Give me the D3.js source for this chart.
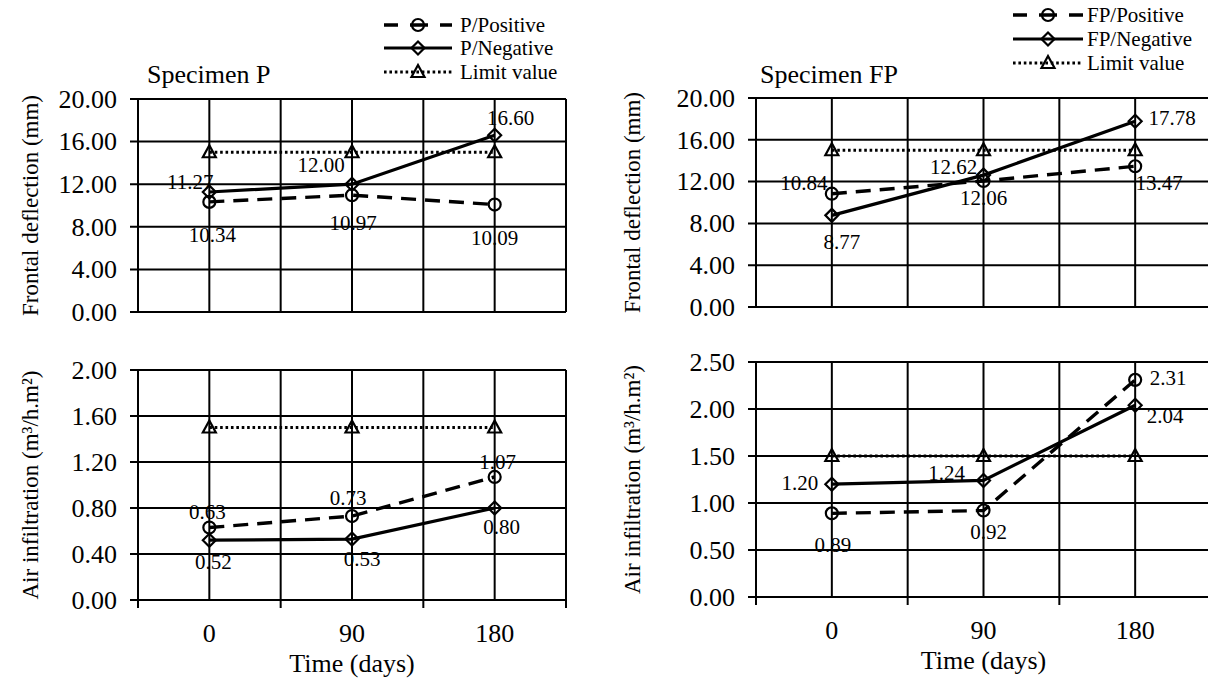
<!DOCTYPE html>
<html>
<head>
<meta charset="utf-8">
<script src="https://cdn.jsdelivr.net/npm/d3@7"></script>
<style>
  body { margin: 0; background: #fff; }
  svg text { font-family: "Liberation Serif", Tinos, "Times New Roman", Times, serif; }
</style>
</head>
<body>
<svg id="chart" width="1208" height="679"></svg>
<script>
// categories
const days = ["0", "90", "180"];

// specimen P
const pDeflPositive = [10.34, 10.97, 10.09];
const pDeflNegative = [11.27, 12.00, 16.60];
const pAirPositive = [0.63, 0.73, 1.07];
const pAirNegative = [0.52, 0.53, 0.80];

// specimen FP
const fpDeflPositive = [10.84, 12.06, 13.47];
const fpDeflNegative = [8.77, 12.62, 17.78];
const fpAirPositive = [0.89, 0.92, 2.31];
const fpAirNegative = [1.20, 1.24, 2.04];

// limits
const deflLimit = [15, 15, 15];
const airLimit = [1.5, 1.5, 1.5];

// tick values
const deflTicks = [0, 4, 8, 12, 16, 20];
const pAirTicks = [0, 0.4, 0.8, 1.2, 1.6, 2.0];
const fpAirTicks = [0, 0.5, 1.0, 1.5, 2.0, 2.5];

const svg = d3.select("#chart");

const styles = {
  positive: { dash: "15,9", width: 3.4, marker: "circle" },
  negative: { dash: null, width: 3.2, marker: "diamond" },
  limit: { dash: "2.6,2.8", width: 2.8, marker: "triangle" }
};

function drawMarker(g, type, x, y) {
  if (type === "circle") {
    g.append("circle").attr("cx", x).attr("cy", y).attr("r", 6)
      .attr("fill", "none").attr("stroke", "#000").attr("stroke-width", 2.2);
  } else if (type === "diamond") {
    g.append("path")
      .attr("d", `M${x},${y - 6.5}L${x + 6.5},${y}L${x},${y + 6.5}L${x - 6.5},${y}Z`)
      .attr("fill", "none").attr("stroke", "#000").attr("stroke-width", 2.2);
  } else {
    g.append("path")
      .attr("d", `M${x},${y - 7}L${x + 6.5},${y + 5}L${x - 6.5},${y + 5}Z`)
      .attr("fill", "none").attr("stroke", "#000").attr("stroke-width", 2.2);
  }
}

function drawPanel(cfg) {
  const g = svg.append("g");
  const x = d3.scaleBand().domain(days).range([cfg.x0, cfg.x1]).padding(0);
  const y = d3.scaleLinear().domain([0, d3.max(cfg.ticks)]).range([cfg.y1, cfg.y0]);
  const cx = d => x(d) + x.bandwidth() / 2;

  // horizontal grid
  g.selectAll(".hgrid").data(cfg.ticks).enter().append("line")
    .attr("x1", cfg.x0 - 8).attr("x2", cfg.x1)
    .attr("y1", d => y(d)).attr("y2", d => y(d))
    .attr("stroke", "#000").attr("stroke-width", 2);

  // vertical grid: category centres and band edges
  const edges = days.map(d => x(d)).concat([cfg.x1]);
  g.selectAll(".vgrid").data(days.map(cx).concat(edges)).enter().append("line")
    .attr("x1", d => d).attr("x2", d => d)
    .attr("y1", cfg.y0).attr("y2", cfg.y1)
    .attr("stroke", "#000").attr("stroke-width", 2);

  // y tick labels
  const yAxis = g.append("g")
    .attr("transform", `translate(${cfg.x0},0)`)
    .call(d3.axisLeft(y).tickValues(cfg.ticks).tickSize(8).tickPadding(13).tickFormat(d3.format(".2f")));
  yAxis.attr("font-family", null);
  yAxis.select(".domain").remove();
  yAxis.selectAll("line").remove();
  yAxis.selectAll("text").attr("font-size", 26).attr("fill", "#000");

  // y title
  g.append("text")
    .attr("transform", `translate(${cfg.titleX},${(cfg.y0 + cfg.y1) / 2}) rotate(-90)`)
    .attr("text-anchor", "middle").attr("dominant-baseline", "central")
    .attr("font-size", 23).text(cfg.yTitle);

  if (cfg.xAxis) {
    g.selectAll(".xtick").data(edges).enter().append("line")
      .attr("x1", d => d).attr("x2", d => d)
      .attr("y1", cfg.y1).attr("y2", cfg.y1 + 8)
      .attr("stroke", "#000").attr("stroke-width", 2);
    g.selectAll(".xlab").data(days).enter().append("text")
      .attr("x", cx).attr("y", cfg.y1 + 33)
      .attr("text-anchor", "middle").attr("dominant-baseline", "central")
      .attr("font-size", 26).text(d => d);
    g.append("text")
      .attr("x", (cfg.x0 + cfg.x1) / 2).attr("y", cfg.y1 + 63)
      .attr("text-anchor", "middle").attr("dominant-baseline", "central")
      .attr("font-size", 26).text("Time (days)");
  }

  if (cfg.title) {
    g.append("text").attr("x", cfg.titleLeft).attr("y", 83)
      .attr("font-size", 26).text(cfg.title);
  }

  // series
  cfg.series.forEach(s => {
    const st = styles[s.kind];
    const line = d3.line().x((d, i) => cx(days[i])).y(d => y(d));
    g.append("path").datum(s.values)
      .attr("d", line)
      .attr("fill", "none").attr("stroke", "#000")
      .attr("stroke-width", st.width)
      .attr("stroke-dasharray", st.dash);
    s.values.forEach((v, i) => drawMarker(g, st.marker, cx(days[i]), y(v)));
    if (s.labels) {
      s.values.forEach((v, i) => {
        g.append("text")
          .attr("x", cx(days[i]) + s.labels[i][0])
          .attr("y", y(v) + s.labels[i][1])
          .attr("text-anchor", "middle").attr("dominant-baseline", "central")
          .attr("font-size", 21).text(v.toFixed(2));
      });
    }
  });
}

function drawLegend(lx0, lx1, tx, rows, names) {
  const g = svg.append("g");
  const mid = (lx0 + lx1) / 2;
  const kinds = ["positive", "negative", "limit"];
  kinds.forEach((k, i) => {
    const st = styles[k];
    const yy = rows[i];
    g.append("line").attr("x1", lx0).attr("x2", lx1).attr("y1", yy).attr("y2", yy)
      .attr("stroke", "#000").attr("stroke-width", st.width)
      .attr("stroke-dasharray", k === "positive" ? "14,12,18,12,14" : st.dash);
    drawMarker(g, st.marker, mid, yy);
    g.append("text").attr("x", tx).attr("y", yy)
      .attr("dominant-baseline", "central").attr("font-size", 21).text(names[i]);
  });
}

const airTitle = "Air infiltration (m\u00B3/h.m\u00B2)";
const deflTitle = "Frontal deflection (mm)";

drawPanel({
  x0: 138, x1: 566, y0: 99, y1: 312, ticks: deflTicks, titleX: 30, yTitle: deflTitle,
  title: "Specimen P", titleLeft: 147,
  series: [
    { kind: "limit", values: deflLimit },
    { kind: "positive", values: pDeflPositive, labels: [[3, 33], [1, 28], [0, 33]] },
    { kind: "negative", values: pDeflNegative, labels: [[-19, -10], [-31, -19], [16, -17]] }
  ]
});

drawPanel({
  x0: 138, x1: 566, y0: 370, y1: 600, ticks: pAirTicks, titleX: 30, yTitle: airTitle,
  xAxis: true,
  series: [
    { kind: "limit", values: airLimit },
    { kind: "positive", values: pAirPositive, labels: [[-2, -16], [-4, -18], [3, -15]] },
    { kind: "negative", values: pAirNegative, labels: [[4, 22], [10, 20], [7, 19]] }
  ]
});

drawPanel({
  x0: 756, x1: 1211, y0: 98, y1: 307, ticks: deflTicks, titleX: 632, yTitle: deflTitle,
  title: "Specimen FP", titleLeft: 760,
  series: [
    { kind: "limit", values: deflLimit },
    { kind: "positive", values: fpDeflPositive, labels: [[-28, -11], [0, 17], [24, 17]] },
    { kind: "negative", values: fpDeflNegative, labels: [[10, 27], [-30, -8], [37, -3]] }
  ]
});

drawPanel({
  x0: 756, x1: 1211, y0: 362, y1: 597, ticks: fpAirTicks, titleX: 632, yTitle: airTitle,
  xAxis: true,
  series: [
    { kind: "limit", values: airLimit },
    { kind: "positive", values: fpAirPositive, labels: [[1, 32], [5, 21], [33, -2]] },
    { kind: "negative", values: fpAirNegative, labels: [[-32, -1], [-37, -7], [30, 11]] }
  ]
});

drawLegend(384, 452, 460, [25, 48, 72], ["P/Positive", "P/Negative", "Limit value"]);
drawLegend(1013, 1083, 1087, [15, 39, 63], ["FP/Positive", "FP/Negative", "Limit value"]);
</script>
</body>
</html>
